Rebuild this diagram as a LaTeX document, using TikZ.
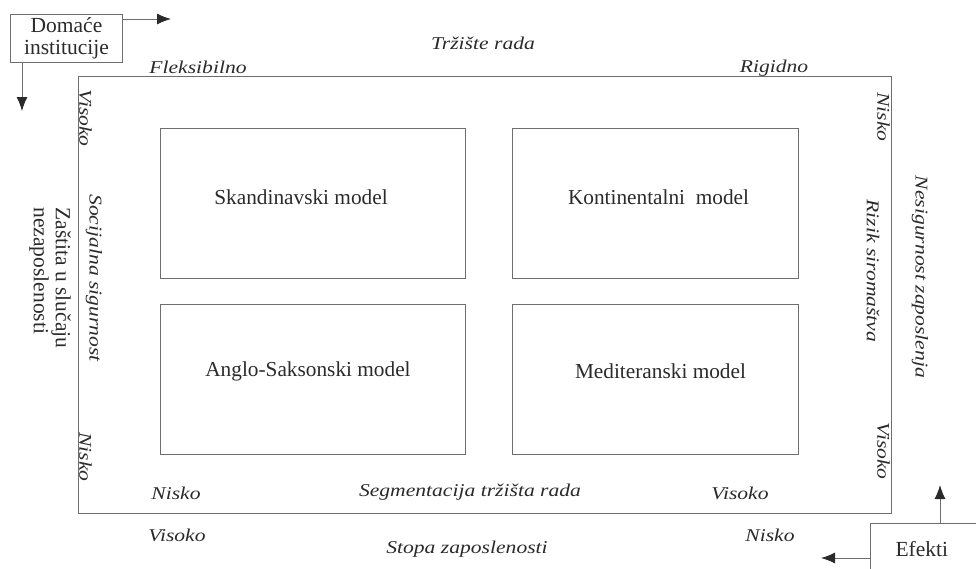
\documentclass[tikz,border=0pt]{standalone}
\usepackage{fontspec}
\setmainfont{Liberation Serif}
\newfontfamily\widefont[FakeStretch=1.2]{Liberation Serif}
\usepackage{tikz}
\usetikzlibrary{positioning,arrows.meta}

\definecolor{linegray}{HTML}{6E6E6E}
\definecolor{textgray}{HTML}{2A2A2A}

\tikzset{
    model/.style={draw=linegray, line width=1pt, minimum width=305pt,
        minimum height=150pt, anchor=north west},
    modeltext/.style={text=textgray, inner sep=0pt,
        font=\fontsize{21.3}{24}\selectfont},
    lbl/.style={text=textgray, inner sep=1pt,
        font=\widefont\fontsize{18}{21}\selectfont\itshape},
    plain/.style={text=textgray, inner sep=1pt,
        font=\fontsize{21.5}{22}\selectfont},
    arr/.style={draw=linegray, line width=1pt,
        -{Latex[length=14pt,width=11pt,color=textgray]}}
}

\begin{document}
\begin{tikzpicture}[x=1pt,y=-1pt]
    \useasboundingbox (0,0) rectangle (976,568);

    % Outer frame
    \node [draw=linegray,
        line width=1pt,
        anchor=north west,
        minimum width=813pt,
        minimum height=437pt,
        inner sep=0pt
    ] (frame) at (78,76) {};

    % Four models
    \node [model] (skand) at (160,128) {};
    \node [model, minimum width=286pt] (kont) at (512,128) {};
    \node [model] (anglo) at (160,304) {};
    \node [model, minimum width=286pt] (medit) at (512,304) {};

    \node [modeltext] (skandtxt) at ([xshift=-12pt,yshift=6pt]skand.center)
        {Skandinavski model};
    \node [modeltext] (konttxt) at ([xshift=3pt,yshift=6pt]kont.center)
        {Kontinentalni\ \ model};
    \node [modeltext] (anglotxt) at ([xshift=-5pt,yshift=8pt]anglo.center)
        {Anglo-Saksonski model};
    \node [modeltext] (medittxt) at ([xshift=5pt,yshift=8pt]medit.center)
        {Mediteranski model};

    % Top axis
    \node [lbl] (trziste) at (483,43) {Tržište rada};
    \node [lbl, anchor=base] (fleks) at (198,73) {Fleksibilno};
    \node [lbl, anchor=base] (rigid) at (774,72) {Rigidno};

    % Left axis
    \node [lbl, rotate=-90, anchor=south] (lvis) at (78,118) {Visoko};
    \node [lbl, rotate=-90, anchor=south] (lnis) at (78,457) {Nisko};
    \node [lbl, rotate=-90] (socij) at (94,278) {Socijalna sigurnost};
    \node [plain, rotate=-90, align=left] (zastita) at (50,278)
        {Zaštita u slučaju\\nezaposlenosti};

    % Right axis
    \node [lbl, rotate=-90, anchor=north] (rnis) at (891,117) {Nisko};
    \node [lbl, rotate=-90, anchor=north] (rvis) at (891,451) {Visoko};
    \node [lbl, rotate=-90] (rizik) at (873,271) {Rizik siromaštva};
    \node [lbl, rotate=-90] (nesig) at (920,277) {Nesigurnost zaposlenja};

    % Bottom axis
    \node [lbl] (bnis) at (176,493) {Nisko};
    \node [lbl] (segm) at (470,492) {Segmentacija tržišta rada};
    \node [lbl] (bvis) at (740,493) {Visoko};
    \node [lbl] (svis) at (177,535) {Visoko};
    \node [lbl] (stopa) at (467,549) {Stopa zaposlenosti};
    \node [lbl] (snis) at (770,535) {Nisko};

    % Institutions and effects
    \node [draw=linegray,
        line width=1pt,
        plain,
        align=center,
        anchor=north west,
        minimum width=112pt,
        minimum height=48pt
    ] (domace) at (10,14) {Domaće\\institucije};

    \node [draw=linegray,
        line width=1pt,
        plain,
        anchor=north west,
        text width=90pt,
        inner xsep=25pt,
        minimum height=52pt
    ] (efekti) at (870,523) {Efekti};

    \coordinate (desno) at (171,19);
    \coordinate (dolje) at (22,111);
    \coordinate (gore) at (940,485);
    \coordinate (lijevo) at (821,558);

    \draw[arr] (domace.east |- desno) -- (desno);
    \draw[arr] (domace.south -| dolje) -- (dolje);
    \draw[arr] (efekti.north -| gore) -- (gore);
    \draw[arr] (efekti.west |- lijevo) -- (lijevo);

\end{tikzpicture}
\end{document}
